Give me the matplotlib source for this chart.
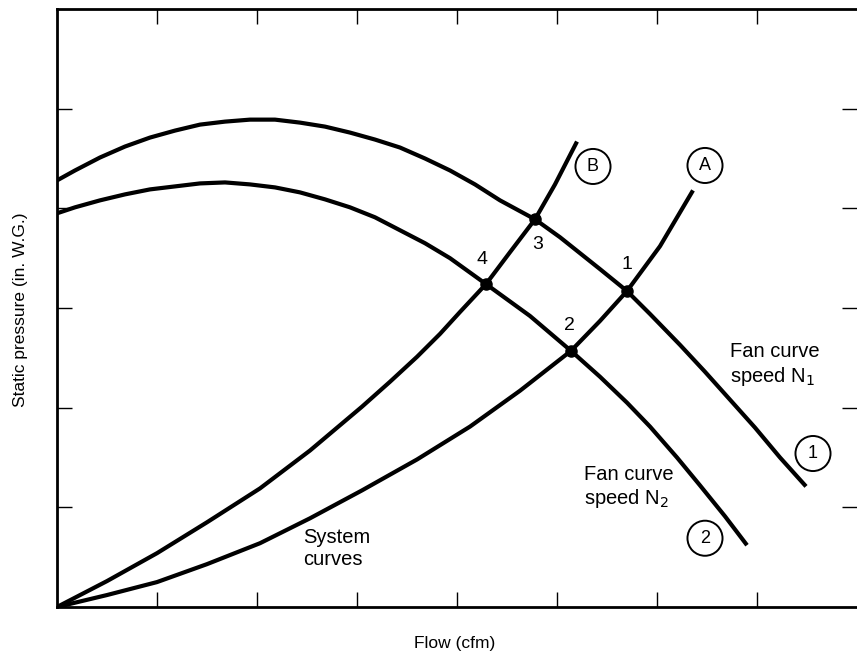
import matplotlib
matplotlib.use('Agg')
import matplotlib.pyplot as plt

plt.rcParams['font.family'] = ['Liberation Sans', 'DejaVu Sans']

# fan curves
fan1_x = [0, 0.18, 0.43, 0.68, 0.93, 1.18, 1.43, 1.68, 1.93, 2.18, 2.43, 2.68, 2.93, 3.18,
          3.43, 3.68, 3.93, 4.18, 4.43, 4.78, 5.03, 5.23, 5.43, 5.70, 5.93, 6.23, 6.48,
          6.73, 6.98, 7.23, 7.49]
fan1_y = [4.28, 4.38, 4.51, 4.62, 4.71, 4.78, 4.84, 4.87, 4.89, 4.89, 4.86, 4.82, 4.76, 4.69,
          4.61, 4.50, 4.38, 4.24, 4.08, 3.89, 3.71, 3.55, 3.39, 3.17, 2.94, 2.63, 2.36,
          2.08, 1.80, 1.50, 1.21]

fan2_x = [0, 0.18, 0.43, 0.68, 0.93, 1.18, 1.43, 1.68, 1.93, 2.18, 2.43, 2.68, 2.93, 3.18,
          3.43, 3.68, 3.93, 4.29, 4.73, 5.14, 5.43, 5.70, 5.93, 6.20, 6.43, 6.68, 6.90]
fan2_y = [3.95, 4.01, 4.08, 4.14, 4.19, 4.22, 4.25, 4.26, 4.24, 4.21, 4.16, 4.09, 4.01, 3.91,
          3.78, 3.65, 3.50, 3.24, 2.92, 2.57, 2.31, 2.05, 1.81, 1.50, 1.22, 0.91, 0.62]

# system curves
sysA_x = [0, 0.5, 1.0, 1.5, 2.03, 2.53, 3.05, 3.60, 4.13, 4.63, 5.14, 5.43, 5.70, 6.03, 6.36]
sysA_y = [0, 0.12, 0.25, 0.43, 0.64, 0.89, 1.17, 1.48, 1.81, 2.17, 2.57, 2.87, 3.17, 3.62, 4.18]

sysB_x = [0, 0.5, 1.0, 1.5, 2.03, 2.53, 3.05, 3.33, 3.60, 3.83, 4.03, 4.29, 4.53, 4.78, 4.98, 5.20]
sysB_y = [0, 0.26, 0.54, 0.85, 1.19, 1.57, 2.01, 2.26, 2.51, 2.74, 2.96, 3.24, 3.56, 3.89, 4.24, 4.67]

# operating points
pt_labels = ['1', '2', '3', '4']
pt_x = [5.70, 5.14, 4.78, 4.29]
pt_y = [3.17, 2.57, 3.89, 3.24]

fig = plt.figure(figsize=(8.57, 6.55), dpi=100)
ax = fig.add_axes([57/857, 48/655, 800/857, 598/655])

for xs, ys in [(fan1_x, fan1_y), (fan2_x, fan2_y), (sysA_x, sysA_y), (sysB_x, sysB_y)]:
    ax.plot(xs, ys, color='black', lw=3, solid_capstyle='butt', solid_joinstyle='round')

ax.plot(pt_x, pt_y, 'o', color='black', ms=8)

# point numbers
lbl_off = [(0, 0.27), (-0.02, 0.25), (0.03, -0.25), (-0.04, 0.25)]
for s, x, y, (dx, dy) in zip(pt_labels, pt_x, pt_y, lbl_off):
    ax.text(x + dx, y + dy, s, fontsize=14, ha='center', va='center')

# circled curve names
circ = dict(boxstyle='circle,pad=0.5', fc='white', ec='black', lw=1.4)
ax.text(5.36, 4.42, 'B', fontsize=13, ha='center', va='center', bbox=circ)
ax.text(6.48, 4.43, 'A', fontsize=13, ha='center', va='center', bbox=circ)
ax.text(7.56, 1.54, '1', fontsize=13, ha='center', va='center', bbox=circ)
ax.text(6.48, 0.69, '2', fontsize=13, ha='center', va='center', bbox=circ)

ax.text(6.73, 2.43, 'Fan curve\nspeed N$_1$', fontsize=14.5, ha='left', va='center', linespacing=1.2)
ax.text(5.27, 1.20, 'Fan curve\nspeed N$_2$', fontsize=14.5, ha='left', va='center', linespacing=1.2)
ax.text(2.46, 0.59, 'System\ncurves', fontsize=14.5, ha='left', va='center', linespacing=1.2)

ax.set_xlim(0, 8)
ax.set_ylim(0, 6)
ax.set_xticks(range(1, 8))
ax.set_yticks(range(1, 6))
ax.tick_params(axis='both', direction='in', length=11, width=1.0,
               labelbottom=False, labelleft=False, top=True, right=True)
for sp in ['left', 'bottom', 'top']:
    ax.spines[sp].set_linewidth(2)
ax.spines['right'].set_visible(False)

ax.set_xlabel('Flow (cfm)', fontsize=12.5)
ax.set_ylabel('Static pressure (in. W.G.)', fontsize=12.5)
ax.xaxis.set_label_coords(0.4975, -0.048)
ax.yaxis.set_label_coords(-0.036, 0.497)

fig.savefig('out.png', dpi=100)
